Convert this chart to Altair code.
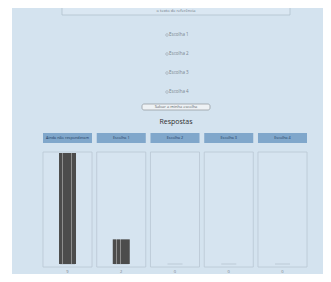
import altair as alt
import pandas as pd

categories = ["Ainda não responderam", "Escolha 1", "Escolha 2", "Escolha 3", "Escolha 4"]
counts = [9, 2, 0, 0, 0]
choices = ["Escolha 1", "Escolha 2", "Escolha 3", "Escolha 4"]
reference_text = "o texto de referência"
button_text = "Salvar a minha escolha"
title_text = "Respostas"

df = pd.DataFrame({"cat": categories, "n": counts})
opts = pd.DataFrame({"choice": choices})
one = pd.DataFrame({"a": [0]})

W, H = 315, 266
BG = "#d4e3ef"
FONT = "Open Sans"

xsc = alt.Scale(domain=categories, range=[35, 299], paddingInner=0.088, paddingOuter=0)
ysc = alt.Scale(domain=[0, 9], range=[256, 145])
X = alt.X("cat:N", scale=xsc, axis=None)

base1 = alt.Chart(one)

background = base1.mark_rect(fill=BG).encode(
    x=alt.value(4), x2=alt.value(W), y=alt.value(0), y2=alt.value(H))

refbox = base1.mark_rect(fill="#dae7f2", stroke="#aebdca", strokeWidth=0.7).encode(
    x=alt.value(54), x2=alt.value(282), y=alt.value(-6), y2=alt.value(7))
reftext = base1.mark_text(text=reference_text, fontSize=4, color="#6a7480", font=FONT).encode(
    x=alt.value(168), y=alt.value(2.5))

yopt = alt.Y("choice:N", scale=alt.Scale(type="point", range=[27, 84], padding=0), axis=None)
radios = alt.Chart(opts).mark_point(shape="circle", filled=False, size=7, stroke="#8a8f96",
                                    strokeWidth=0.6).encode(x=alt.value(159), y=yopt)
radiotext = alt.Chart(opts).mark_text(align="left", fontSize=4.5, color="#7a838e", font=FONT).encode(
    x=alt.value(161), y=yopt, text="choice:N")

button = base1.mark_rect(fill="#eef2f5", stroke="#8c939a", strokeWidth=0.7, cornerRadius=2).encode(
    x=alt.value(134), x2=alt.value(202), y=alt.value(96), y2=alt.value(102))
buttontext = base1.mark_text(text=button_text, fontSize=4, color="#555c64", font=FONT).encode(
    x=alt.value(168), y=alt.value(99))

title = base1.mark_text(text=title_text, fontSize=7, color="#2e2e2e", font=FONT).encode(
    x=alt.value(168), y=alt.value(114))

base = alt.Chart(df)

headers = base.mark_bar(fill="#80a7cb").encode(x=X, y=alt.value(125), y2=alt.value(135))
headtext = base.mark_text(fontSize=3.8, color="#1f3a5e", font=FONT).encode(
    x=X, y=alt.value(130), text="cat:N")

panels = base.mark_bar(fill="#d6e4f0", stroke="#b9c7d3", strokeWidth=0.8).encode(
    x=X, y=alt.value(144), y2=alt.value(259))

baseline = base.mark_tick(size=15, thickness=0.8, color="#a9b6c2").encode(
    x=X, y=alt.Y("zero:Q", scale=ysc, axis=None)).transform_calculate(zero="0")

dark, light = "#4c4c4c", "#8e8e8e"
stops = []
edges = [(0.0, 0.2), (0.24, 0.45), (0.49, 0.7), (0.74, 1.0)]
for i, (a, b) in enumerate(edges):
    stops.append(alt.GradientStop(offset=a, color=dark))
    stops.append(alt.GradientStop(offset=b, color=dark))
    if i < len(edges) - 1:
        stops.append(alt.GradientStop(offset=b, color=light))
        stops.append(alt.GradientStop(offset=edges[i + 1][0], color=light))
grad = alt.Gradient(gradient="linear", stops=stops, x1=0, x2=1, y1=0, y2=0)

bars = base.mark_bar(size=17, fill=grad).encode(
    x=X, y=alt.Y("n:Q", scale=ysc, axis=None))

labels = base.mark_text(fontSize=4, color="#7a828a", font=FONT, baseline="middle").encode(
    x=X, y=alt.value(263.5), text="n:Q")

chart = alt.layer(
    background, refbox, reftext, radios, radiotext, button, buttontext, title,
    headers, headtext, panels, baseline, bars, labels
).resolve_scale(y="independent").properties(
    width=W, height=H,
    autosize=alt.AutoSizeParams(type="none"),
    padding=0, background="white"
).configure_view(stroke=None)

chart.save("out.html", embed_options={"renderer": "svg", "actions": False})
